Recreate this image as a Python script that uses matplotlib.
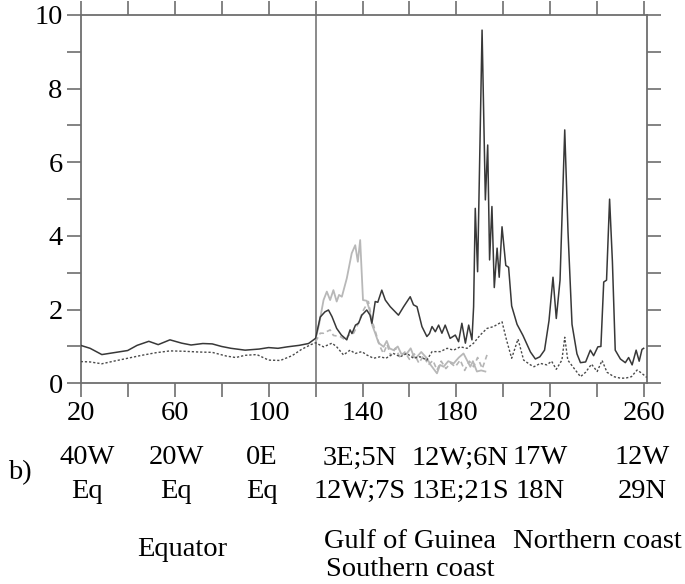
import matplotlib
matplotlib.use("Agg")
import matplotlib.pyplot as plt

plt.rcParams.update({"font.family": "Liberation Serif", "font.size": 20.5})

# section boundary between the equatorial track and the coastal tracks
X_SPLIT = 120

# dark solid series (whole track)
solid_x = [20, 24, 29, 34, 40, 44, 49, 53, 58, 63, 67, 72, 76, 80, 84, 90, 96,
           100, 104, 108, 113, 117, 120, 122, 124, 125.5, 127, 129, 131, 133.3,
           134.7, 135.5, 137, 138.3, 139.7, 141.8, 143.2, 144, 145.4, 146.5,
           148.2, 149.7, 151.8, 155.3, 157.5, 160.3, 161.7, 163.2, 165.3, 167.4,
           168.5, 169.6, 171, 172.4, 173.8, 175.2, 177.3, 179.5, 180.9, 182.3,
           183.8, 185.2, 186.6, 187.3, 188.0, 189, 190.9, 192.3, 193.3, 194.1,
           195.1, 196.1, 197.3, 198.2, 199.4, 201, 202.2, 203.5, 205.8, 208.3,
           211.5, 213.6, 215.5, 217.5, 219.4, 221.1, 222.5, 224.1, 226.1, 227.5,
           229.2, 231.3, 232.8, 235, 237, 238.4, 240.2, 241.5, 242.7, 243.9,
           245.2, 246.4, 247.6, 249.8, 251.9, 253.3, 254.8, 256.5, 257.8, 259.0,
           259.7]
solid_y = [1.03, 0.95, 0.78, 0.83, 0.89, 1.03, 1.14, 1.05, 1.18, 1.09, 1.04,
           1.08, 1.07, 1.0, 0.95, 0.90, 0.93, 0.97, 0.95, 0.99, 1.03, 1.08,
           1.22, 1.8, 1.94, 1.99, 1.81, 1.49, 1.31, 1.18, 1.45, 1.35, 1.58,
           1.63, 1.85, 1.99, 1.85, 1.63, 2.22, 2.2, 2.53, 2.26, 2.08, 1.85,
           2.08, 2.35, 2.13, 2.08, 1.54, 1.27, 1.35, 1.54, 1.4, 1.58, 1.36,
           1.58, 1.22, 1.31, 1.13, 1.63, 1.09, 1.58, 1.18, 2.08, 4.75, 3.03,
           9.59, 4.98, 6.47, 3.35, 4.8, 2.6, 3.67, 2.88, 4.25, 3.2, 3.15, 2.1,
           1.6, 1.3, 0.85, 0.66, 0.72, 0.9, 1.7, 2.88, 1.76, 2.8, 6.88, 4.1,
           1.6, 0.8, 0.56, 0.58, 0.9, 0.75, 0.99, 1.0, 2.75, 2.8, 5.0, 3.3,
           0.9, 0.66, 0.56, 0.7, 0.5, 0.9, 0.6, 0.92, 0.95]

# dark dotted series (whole track)
dotted_x = [20, 24, 29, 34, 40, 46, 52, 58, 64, 70, 76, 82, 86, 90, 95, 100,
            105, 110, 114, 118, 120, 123.4, 127, 129, 131.9, 134.7, 136.9,
            139.7, 141.8, 144.7, 147.5, 150, 153.2, 156, 158.9, 161.7, 164.5,
            167.4, 169.6, 173.1, 176, 178.8, 181.6, 184.5, 187.3, 190.1, 193,
            195.8, 199.4, 201.3, 203.5, 206.2, 208.6, 211.5, 213, 215.7, 218.5,
            220.5, 222.5, 224.9, 226.1, 227.4, 229.9, 232.8, 235, 237.5, 239.9,
            242, 244.1, 247, 249.8, 252, 254.5, 256.9, 258.3, 259.7, 261]
dotted_y = [0.59, 0.58, 0.53, 0.6, 0.68, 0.76, 0.83, 0.88, 0.87, 0.85, 0.84,
            0.74, 0.70, 0.76, 0.78, 0.63, 0.62, 0.75, 0.92, 1.05, 1.1, 0.99,
            1.09, 0.99, 0.77, 0.9, 0.81, 0.86, 0.77, 0.68, 0.72, 0.68, 0.81,
            0.72, 0.81, 0.68, 0.72, 0.63, 0.86, 0.86, 0.95, 0.9, 0.99, 0.95,
            1.09, 1.31, 1.49, 1.54, 1.67, 1.18, 0.68, 1.2, 0.63, 0.5, 0.45,
            0.54, 0.5, 0.6, 0.38, 0.63, 1.25, 0.63, 0.42, 0.18, 0.3, 0.52,
            0.32, 0.62, 0.3, 0.18, 0.14, 0.14, 0.18, 0.36, 0.3, 0.23, 0.16]

# light grey solid series (southern coast only)
grey_x = [120, 121.5, 123.4, 124.8, 126.2, 127.6, 129, 130, 131.2, 133.3,
          135.4, 136.9, 138, 139, 140.2, 141.8, 143, 144, 145.4, 146.8, 149,
          150.3, 151.5, 153.2, 155, 156.5, 158.9, 160.5, 162, 163.2, 165,
          167.4, 169, 171.7, 173, 174.5, 176.5, 178.8, 181, 183, 185.9, 187,
          188.7, 190.5, 192.3]
grey_y = [1.2, 1.6, 2.26, 2.49, 2.26, 2.53, 2.22, 2.4, 2.35, 2.85, 3.53, 3.75,
          3.3, 3.89, 2.26, 2.24, 1.99, 1.6, 1.36, 1.1, 0.99, 1.15, 0.95, 0.9,
          1.0, 0.8, 0.81, 0.95, 0.7, 0.72, 0.85, 0.68, 0.5, 0.27, 0.5, 0.45,
          0.6, 0.54, 0.7, 0.81, 0.45, 0.6, 0.32, 0.35, 0.32]

# light grey dashed series (southern coast only)
greyd_x = [120, 122, 123.4, 126.2, 127.6, 130.5, 132.6, 134, 136.2, 137.6,
           140.4, 142.5, 144, 146.1, 147.5, 148.9, 150.5, 152, 154, 156, 158,
           160, 162, 164, 166, 168, 170, 171.7, 173.5, 175.5, 177.5, 179.5,
           181.6, 183.5, 185.5, 187.3, 189, 191, 193]
greyd_y = [1.13, 1.36, 1.36, 1.45, 1.3, 1.27, 1.18, 1.3, 1.36, 1.54, 1.99,
           2.22, 1.72, 1.27, 0.99, 0.81, 1.05, 0.75, 0.95, 0.7, 0.85, 0.65,
           0.8, 0.55, 0.75, 0.5, 0.62, 0.36, 0.6, 0.4, 0.55, 0.45, 0.63, 0.35,
           0.6, 0.45, 0.7, 0.4, 0.77]

x_ticks = list(range(20, 261, 20))
x_ticklabels = [str(v) if (v - 20) % 40 == 0 else "" for v in x_ticks]
y_ticks = list(range(0, 11))
y_ticklabels = [str(v) if v % 2 == 0 else "" for v in y_ticks]

# location labels under the axis: (x pixel, first line, second line)
loc_x = [87, 176, 262, 360, 460, 540, 642]
loc_top = ["40W", "20W", "0E", "3E;5N", "12W;6N", "17W", "12W"]
loc_bottom = ["Eq", "Eq", "Eq", "12W;7S", "13E;21S", "18N", "29N"]

W, H = 685, 584
fig = plt.figure(figsize=(W / 100, H / 100), dpi=100)
ax = fig.add_axes([80.7 / W, 1 - 383.3 / H, (646.7 - 80.7) / W, (383.3 - 15) / H])

ax.plot(grey_x, grey_y, color="#b8b8b8", lw=1.3, zorder=2)
ax.plot(greyd_x, greyd_y, color="#b4b4b4", lw=1.2, ls=(0, (3, 2)), zorder=2)
ax.plot(dotted_x, dotted_y, color="#4a4a4a", lw=1.0, ls=(0, (1.6, 1.4)), zorder=3)
ax.plot(solid_x, solid_y, color="#383838", lw=1.1, zorder=4)
ax.axvline(X_SPLIT, color="#777777", lw=1.2, zorder=1)

ax.set_xlim(20, 261)
ax.set_ylim(0, 10)
ax.set_xticks(x_ticks)
ax.set_xticklabels(x_ticklabels)
ax.set_yticks(y_ticks)
ax.set_yticklabels(y_ticklabels)
ax.tick_params(direction="out", length=10, width=1.2, color="#6e6e6e",
               top=True, right=True, labeltop=False, labelright=False)
ax.tick_params(axis="x", pad=3)
ax.tick_params(axis="y", pad=3)
for s in ax.spines.values():
    s.set_color("#6e6e6e")
    s.set_linewidth(1.3)

def fx(px):
    return px / W

def fy(py):
    return 1 - py / H

fig.text(fx(20), fy(473), "b)", ha="center", va="center")
for px, a, b in zip(loc_x, loc_top, loc_bottom):
    fig.text(fx(px), fy(458), a, ha="center", va="center")
    fig.text(fx(px), fy(491), b, ha="center", va="center")

fig.text(fx(182), fy(549), "Equator", ha="center", va="center")
fig.text(fx(410), fy(541), "Gulf of Guinea", ha="center", va="center")
fig.text(fx(410), fy(570), "Southern coast", ha="center", va="center")
fig.text(fx(597), fy(541), "Northern coast", ha="center", va="center")

fig.savefig("out.png", dpi=100)
